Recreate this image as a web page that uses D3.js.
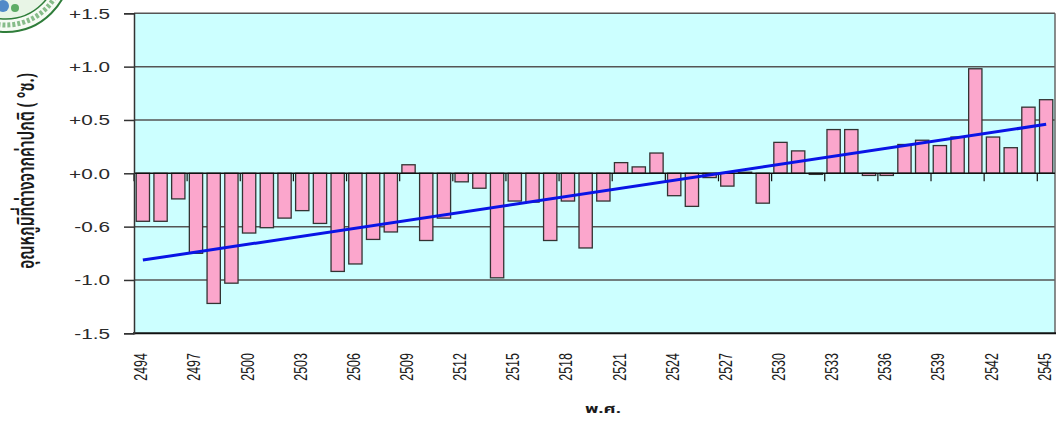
<!DOCTYPE html>
<html>
<head>
<meta charset="utf-8">
<script src="https://cdn.jsdelivr.net/npm/d3@7"></script>
<style>
  body { margin: 0; background: #ffffff; }
  svg { display: block; }
</style>
</head>
<body>
<svg id="chart" width="1057" height="421"></svg>
<script>
// Annual temperature anomaly (°C) against the long-term normal, Thai solar years (B.E.)
const years = [
  2494, 2495, 2496, 2497, 2498, 2499, 2500, 2501, 2502, 2503,
  2504, 2505, 2506, 2507, 2508, 2509, 2510, 2511, 2512, 2513,
  2514, 2515, 2516, 2517, 2518, 2519, 2520, 2521, 2522, 2523,
  2524, 2525, 2526, 2527, 2528, 2529, 2530, 2531, 2532, 2533,
  2534, 2535, 2536, 2537, 2538, 2539, 2540, 2541, 2542, 2543,
  2544, 2545
];
const anomalies = [
  -0.45, -0.45, -0.24, -0.75, -1.22, -1.03, -0.56, -0.51, -0.42, -0.35,
  -0.47, -0.92, -0.85, -0.62, -0.55,  0.08, -0.63, -0.42, -0.08, -0.14,
  -0.98, -0.26, -0.27, -0.63, -0.26, -0.70, -0.26,  0.10,  0.06,  0.19,
  -0.21, -0.31, -0.04, -0.12,  0.01, -0.28,  0.29,  0.21, -0.01,  0.41,
   0.41, -0.02, -0.02,  0.27,  0.31,  0.26,  0.34,  0.98,  0.34,  0.24,
   0.62,  0.69
];
const xTickYears = [2494, 2497, 2500, 2503, 2506, 2509, 2512, 2515, 2518,
                    2521, 2524, 2527, 2530, 2533, 2536, 2539, 2542, 2545];
const yTickValues = [-1.5, -1.0, -0.5, 0.0, 0.5, 1.0, 1.5];
const yTickLabels = ["-1.5", "-1.0", "-0.6", "+0.0", "+0.5", "+1.0", "+1.5"];
const yTitle = "อุณหภูมิที่ต่างจากค่าปกติ ( °ซ.)";
const xTitle = "พ.ศ.";

// Plot frame
const plotLeft = 134, plotRight = 1055, plotTop = 13.3, plotBottom = 333.3;
const stretch = 1.48;            // wide glyphs used throughout the chart
const font = "Arial, 'Liberation Sans', Helvetica, sans-serif";
const thaiFont = "'Noto Sans Thai', 'Noto Sans Thai UI', 'Leelawadee UI', Tahoma, 'Noto Sans', sans-serif";

const svg = d3.select("#chart");

const x = d3.scaleBand()
  .domain(years)
  .range([plotLeft, plotRight])
  .paddingInner(0.25)
  .paddingOuter(0.125);

const y = d3.scaleLinear().domain([-1.5, 1.5]).range([plotBottom, plotTop]);

// Emblem in the top-left corner
const emblem = svg.append("g");
emblem.append("circle").attr("cx", 6).attr("cy", -32).attr("r", 64)
  .attr("fill", "#f6fbf4").attr("stroke", "#2f7d3a").attr("stroke-width", 2);
emblem.append("circle").attr("cx", 6).attr("cy", -32).attr("r", 57)
  .attr("fill", "none").attr("stroke", "#4c9a52").attr("stroke-width", 5)
  .attr("stroke-dasharray", "3 2").attr("opacity", 0.65);
emblem.append("circle").attr("cx", 6).attr("cy", -32).attr("r", 51)
  .attr("fill", "#e8f5e6").attr("stroke", "#2f7d3a").attr("stroke-width", 1.5);
emblem.append("circle").attr("cx", 3).attr("cy", 6).attr("r", 6)
  .attr("fill", "#2a6fc0").attr("opacity", 0.8);
emblem.append("circle").attr("cx", 15).attr("cy", 8).attr("r", 4)
  .attr("fill", "#3a9a45").attr("opacity", 0.8);

// Plot background
svg.append("rect")
  .attr("x", plotLeft).attr("y", plotTop)
  .attr("width", plotRight - plotLeft).attr("height", plotBottom - plotTop)
  .attr("fill", "#ccffff");

// Horizontal gridlines
svg.append("g")
  .selectAll("line")
  .data(yTickValues.filter(v => v !== 0 && v !== -1.5))
  .join("line")
  .attr("x1", plotLeft).attr("x2", plotRight)
  .attr("y1", d => y(d)).attr("y2", d => y(d))
  .attr("stroke", "#555").attr("stroke-width", 1.5);

// Right border
svg.append("line")
  .attr("x1", plotRight).attr("x2", plotRight).attr("y1", plotTop).attr("y2", plotBottom)
  .attr("stroke", "#666").attr("stroke-width", 1.5);

// Bars
svg.append("g")
  .selectAll("rect")
  .data(years.map((yr, i) => ({ yr, v: anomalies[i] })))
  .join("rect")
  .attr("x", d => x(d.yr))
  .attr("width", x.bandwidth())
  .attr("y", d => y(Math.max(0, d.v)))
  .attr("height", d => Math.max(1, Math.abs(y(d.v) - y(0))))
  .attr("fill", "#fba6cc")
  .attr("stroke", "#333")
  .attr("stroke-width", 1.3);

// Category axis along the zero line, ticks between groups of three years
const step = x.step();
const boundary = yr => x(yr) - step * x.paddingInner() / 2;
svg.append("line")
  .attr("x1", plotLeft).attr("x2", plotRight).attr("y1", y(0)).attr("y2", y(0))
  .attr("stroke", "#111").attr("stroke-width", 1.5);
svg.append("g")
  .selectAll("line")
  .data(xTickYears)
  .join("line")
  .attr("x1", d => boundary(d)).attr("x2", d => boundary(d))
  .attr("y1", y(0)).attr("y2", y(0) + 8)
  .attr("stroke", "#111").attr("stroke-width", 1.2);

// Bottom frame line
svg.append("line")
  .attr("x1", plotLeft - 1).attr("x2", plotRight + 1).attr("y1", plotBottom).attr("y2", plotBottom)
  .attr("stroke", "#111").attr("stroke-width", 2);

// Year labels, rotated, below the frame
svg.append("g")
  .selectAll("text")
  .data(xTickYears)
  .join("text")
  .attr("transform", d => `translate(${x(d) + x.bandwidth() / 2 + 4.5},353) scale(${stretch},1) rotate(-90)`)
  .attr("text-anchor", "end")
  .attr("font-family", font)
  .attr("font-size", 12.5)
  .attr("fill", "#1a1a1a")
  .text(d => d);

// Value axis
const yAxis = d3.axisLeft(y)
  .tickValues(yTickValues)
  .tickSize(10)
  .tickFormat((d, i) => yTickLabels[i]);
const yg = svg.append("g").attr("transform", `translate(${plotLeft},0)`).call(yAxis);
yg.select(".domain").attr("stroke", "#333").attr("stroke-width", 1.5);
yg.selectAll(".tick line").attr("stroke", "#333").attr("stroke-width", 1.5);
yg.selectAll(".tick text")
  .attr("x", null).attr("dy", null)
  .attr("transform", `translate(-24,5) scale(${stretch},1)`)
  .attr("font-family", font)
  .attr("font-size", 14)
  .attr("fill", "#2a2a2a");

// Linear trend fitted to the anomalies
const mx = d3.mean(years), my = d3.mean(anomalies);
const slope = d3.sum(years, (yr, i) => (yr - mx) * (anomalies[i] - my)) /
              d3.sum(years, yr => (yr - mx) * (yr - mx));
const fit = yr => my + slope * (yr - mx);
const trendYears = [years[0], years[years.length - 1]];
svg.append("path")
  .datum(trendYears)
  .attr("d", d3.line().x(d => x(d) + x.bandwidth() / 2).y(d => y(fit(d))))
  .attr("fill", "none")
  .attr("stroke", "#0a14e6")
  .attr("stroke-width", 3);

// Axis titles
svg.append("text")
  .attr("transform", `translate(34,171) scale(${stretch},1) rotate(-90)`)
  .attr("text-anchor", "middle")
  .attr("font-family", thaiFont)
  .attr("font-size", 15.5)
  .attr("font-weight", 600)
  .attr("fill", "#1a1a1a")
  .text(yTitle);

svg.append("text")
  .attr("transform", `translate(603,413) scale(${stretch},1)`)
  .attr("text-anchor", "middle")
  .attr("font-family", thaiFont)
  .attr("font-size", 12.5)
  .attr("font-weight", "bold")
  .attr("fill", "#1a1a1a")
  .text(xTitle);
</script>
</body>
</html>
